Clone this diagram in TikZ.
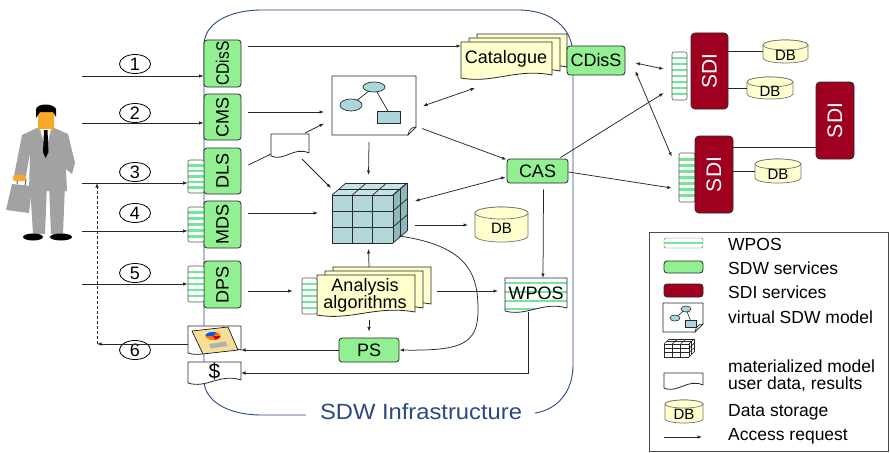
\documentclass[tikz,border=0pt]{standalone}
\usepackage{fontspec}
\setmainfont{Liberation Sans}
\usetikzlibrary{arrows.meta,calc,fit,shapes.geometric}

\definecolor{sdwgreen}{RGB}{146,240,146}
\definecolor{sdired}{RGB}{160,0,32}
\definecolor{paper}{RGB}{255,255,206}
\definecolor{stripegreen}{RGB}{112,232,152}
\definecolor{infrablue}{RGB}{44,72,132}
\definecolor{cubefront}{RGB}{178,214,218}
\definecolor{cubetop}{RGB}{198,228,230}
\definecolor{cubeside}{RGB}{140,184,190}
\definecolor{modelblue}{RGB}{170,214,220}
\definecolor{suitgray}{RGB}{162,162,162}
\definecolor{skin}{RGB}{250,168,40}
\definecolor{linegray}{RGB}{40,40,40}
\definecolor{chartpaper}{RGB}{246,222,150}

\newcommand\lblfont{\fontsize{18}{18}\selectfont}

% document outline with a wavy lower edge; #5 is the lowest point of the wave
\newcommand\docshape[5]{%
  \path[#1] (#2,#3) -- (#4,#3) -- (#4,{#5-5})
    .. controls ({#2+0.6*(#4-#2)},{#5-12}) and ({#2+0.35*(#4-#2)},{#5+4}) .. (#2,{#5-2}) -- cycle;}

% page with a folded lower right corner
\newcommand\foldedpage[5]{%
  \path[#1] (#2,#3) -- (#4,#3) -- (#4,{#5-8}) -- ({#4-8},#5) -- (#2,#5) -- cycle;
  \draw[linegray, line width=0.6pt, fill=black!12] (#4,{#5-8}) .. controls ({#4-4},{#5-8}) and ({#4-7},{#5-6}) .. ({#4-8},#5) -- cycle;}

% database cylinder: name, x1, y1, x2, y2, half height of the lid
\newcommand\dbcyl[6]{%
  \path[dbbody] (#2,{#3+#6}) -- (#2,{#5-#6})
    arc[start angle=180, end angle=0, x radius={(#4-#2)/2}, y radius=#6]
    -- (#4,{#3+#6})
    arc[start angle=0, end angle=-180, x radius={(#4-#2)/2}, y radius=#6] -- cycle;
  \draw[dbbody] ({(#2+#4)/2},{#3+#6}) ellipse[x radius={(#4-#2)/2}, y radius=#6];
  \node[area, fit={(#2,#3) (#4,#5)}] (#1) {};
  \node[dbtext] at ({(#2+#4)/2},{(#3+#5)/2+#6/2+1}) {DB};}

% cube of 3x3 cells: front face corners and depth offset
\newcommand\gridcube[6]{%
  \path[ctop] (#1,#2) -- ({#1+#5},{#2+#6}) -- ({#3+#5},{#2+#6}) -- (#3,#2) -- cycle;
  \path[cside] (#3,#2) -- ({#3+#5},{#2+#6}) -- ({#3+#5},{#4+#6}) -- (#3,#4) -- cycle;
  \path[cfront] (#1,#2) rectangle (#3,#4);
  \foreach \i in {0,1,2,3}{
    \draw[cubeline] ({#1+\i*(#3-#1)/3},#2) -- ({#1+\i*(#3-#1)/3},#4);
    \draw[cubeline] (#1,{#2+\i*(#4-#2)/3}) -- (#3,{#2+\i*(#4-#2)/3});
    \draw[cubeline] ({#1+\i*(#3-#1)/3},#2) -- ({#1+\i*(#3-#1)/3+#5},{#2+#6});
    \draw[cubeline] (#3,{#2+\i*(#4-#2)/3}) -- ({#3+#5},{#2+\i*(#4-#2)/3+#6});}
  \foreach \f in {0.5,1}{
    \draw[cubeline] ({#1+\f*#5},{#2+\f*#6}) -- ({#3+\f*#5},{#2+\f*#6});
    \draw[cubeline] ({#3+\f*#5},{#2+\f*#6}) -- ({#3+\f*#5},{#4+\f*#6});}}

\tikzset{
  area/.style={inner sep=0pt, outer sep=0pt},
  svc/.style={draw=linegray, fill=sdwgreen, rounded corners=3pt, line width=0.8pt,
    inner sep=0pt, font=\lblfont},
  sdibox/.style={draw=linegray, fill=sdired, rounded corners=4pt, line width=0.8pt,
    inner sep=0pt, text=white, font=\fontsize{21}{21}\selectfont},
  wbox/.style={draw=black!65, fill=white, rounded corners=2pt, inner sep=0pt, line width=0.6pt,
    path picture={\foreach \k in {1,...,#1}{
      \draw[stripegreen, line width=2.8pt]
        ($(path picture bounding box.north west)!{\k/(#1+1)}!(path picture bounding box.south west)$) --
        ($(path picture bounding box.north east)!{\k/(#1+1)}!(path picture bounding box.south east)$);}}},
  docst/.style={draw=linegray, fill=paper, line width=0.8pt},
  plaindoc/.style={draw=linegray, fill=white, line width=0.8pt},
  dbbody/.style={draw=black!55, fill=paper, line width=0.7pt},
  dbtext/.style={font=\fontsize{15}{15}\selectfont, inner sep=0pt},
  ctop/.style={fill=cubetop}, cside/.style={fill=cubeside}, cfront/.style={fill=cubefront},
  cubeline/.style={draw=linegray, line width=0.7pt},
  numc/.style={draw=black, ellipse, line width=0.8pt, minimum width=31pt, minimum height=19pt,
    inner sep=0pt, font=\lblfont},
  tipA/.tip={Latex[length=4.5pt,width=3.4pt]},
  acc/.style={draw=linegray, line width=0.75pt, -tipA},
  accb/.style={draw=linegray, line width=0.75pt, tipA-tipA},
  link/.style={draw=linegray, line width=0.75pt},
  infra/.style={draw=infrablue, line width=0.9pt},
  legtext/.style={anchor=west, inner sep=0pt, font=\fontsize{17.5}{17.5}\selectfont},
}

\begin{document}
\begin{tikzpicture}[x=1pt, y=-1pt, font=\lblfont]
\useasboundingbox[fill=white] (0,0) rectangle (890,452);

% ---------------- SDW infrastructure boundary ----------------
\draw[infra] (306,415) -- (262,415) .. controls (226,415) and (204,400) .. (204,380)
  -- (204,45) .. controls (204,24) and (228,10) .. (262,10) -- (518,10)
  .. controls (552,10) and (573,28) .. (573,56) -- (573,365)
  .. controls (573,393) and (556,410) .. (535,413);
\node[text=infrablue, font=\fontsize{22}{22}\selectfont, inner sep=0pt] (infra) at (421,412) {\scalebox{1.08}[1]{SDW Infrastructure}};

% ---------------- user ----------------
\begin{scope}
  \fill[suitgray] (30,185) -- (47,185) -- (45,234) -- (33,234) -- cycle;
  \fill[suitgray] (49,185) -- (65,185) -- (63,234) -- (51,234) -- cycle;
  \fill[black] (33,237) ellipse[x radius=10, y radius=3.5];
  \fill[black] (61,237) ellipse[x radius=11, y radius=3.5];
  \fill[suitgray] (22,135) -- (39,127) -- (52,127) -- (68,134) -- (75,163) -- (72,174)
    -- (66,169) -- (67,191) -- (29,191) -- (30,152) -- (26,176) -- (14,176) -- cycle;
  \fill[skin, rounded corners=3pt] (38,110) rectangle (54,131);
  \fill[black] (36,118) -- (36,109) .. controls (38,103) and (53,103) .. (56,109)
    -- (56,117) -- (53,112) -- (40,112) -- cycle;
  \fill[white] (40,129) -- (51,129) -- (46,150) -- cycle;
  \fill[black] (44,130) -- (47.5,130) -- (48.5,152) -- (45.5,158) -- (43,152) -- cycle;
  \draw[black!60, line width=1pt] (17,184) -- (18,179) -- (26,180) -- (25,186);
  \fill[suitgray] (12,184) -- (32,186) -- (29,213) -- (6,210) -- cycle;
  \fill[skin, rounded corners=2pt] (13,175) rectangle (26,181);
\end{scope}

% ---------------- request numbers ----------------
\node[numc] (n1) at (135,64) {1};
\node[numc] (n2) at (135,113) {2};
\node[numc] (n3) at (135,172) {3};
\node[numc] (n4) at (135,213) {4};
\node[numc] (n5) at (135,273) {5};
\node[numc] (n6) at (135,350) {6};

% ---------------- SDW services ----------------
\node[svc, minimum width=37pt, minimum height=47pt] (cdiss) at (222.5,63.5) {\rotatebox{90}{\scalebox{0.86}[1]{CDisS}}};
\node[svc, minimum width=37pt, minimum height=46pt] (cms) at (222.5,117) {\rotatebox{90}{CMS}};
\node[svc, minimum width=37pt, minimum height=46pt] (dls) at (222.5,171) {\rotatebox{90}{DLS}};
\node[svc, minimum width=37pt, minimum height=47pt] (mds) at (222.5,224.5) {\rotatebox{90}{MDS}};
\node[svc, minimum width=37pt, minimum height=47pt] (dps) at (222.5,284.5) {\rotatebox{90}{DPS}};
\node[wbox=5, minimum width=16pt, minimum height=33pt] (wdls) at (196,176.5) {};
\node[wbox=5, minimum width=16pt, minimum height=35pt] (wmds) at (196,224.5) {};
\node[wbox=5, minimum width=16pt, minimum height=36pt] (wdps) at (196,284) {};

% ---------------- results handed back ----------------
\docshape{plaindoc}{188}{326}{241}{355}
\node[area, fit={(188,326) (241,355)}] (res) {};
\filldraw[fill=chartpaper, draw=black, line width=0.6pt] (192,331) -- (228,327) -- (238,350) -- (203,354) -- cycle;
\fill[orange!90!red] (213,336) ellipse[x radius=7.5, y radius=4];
\fill[blue!65!cyan] (213,336) -- (205.5,336) arc[start angle=180, end angle=300, x radius=7.5, y radius=4] -- cycle;
\fill[red!80!black] (213,336) -- (220.5,336) arc[start angle=0, end angle=70, x radius=7.5, y radius=4] -- cycle;
\fill[gray!60] (209,344) -- (226,341.5) -- (227.5,346) -- (210.5,348.5) -- cycle;
\docshape{plaindoc}{188}{362}{241}{385}
\node[area, fit={(188,362) (241,385)}] (dol) {};
\node[font=\fontsize{21}{21}\selectfont] at (214.5,371.5) {\$};

% ---------------- virtual SDW model ----------------
\foldedpage{plaindoc}{332}{76}{416}{135}
\node[area, fit={(332,76) (416,135)}] (vm) {};
\draw[linegray, line width=0.7pt] (374,87) -- (351,105) (374,87) -- (388,111);
\filldraw[fill=modelblue, draw=linegray, line width=0.7pt] (374,87) ellipse[x radius=11, y radius=5];
\filldraw[fill=modelblue, draw=linegray, line width=0.7pt] (351,105) ellipse[x radius=11, y radius=6];
\filldraw[fill=modelblue, draw=linegray, line width=0.7pt] (377,111) rectangle (400,123);

% user data
\docshape{plaindoc}{271}{134}{309}{158}
\node[area, fit={(271,134) (309,158)}] (ud) {};

% ---------------- catalogue ----------------
\docshape{docst}{477}{34}{567}{72}
\docshape{docst}{469}{38}{560}{76}
\docshape{docst}{461}{42}{552}{80}
\node[area, fit={(461,42) (552,80)}] (cat) {};
\node at (506,59) {Catalogue};
\node[svc, minimum width=58pt, minimum height=29pt] (cdiss2) at (596,60.5) {CDisS};

% ---------------- materialized model ----------------
\gridcube{332}{195}{393}{243}{14}{-12}
\node[area, fit={(332,183) (407,243)}] (cube) {};

\dbcyl{db}{475}{207}{528}{242}{6}

% ---------------- analysis ----------------
\docshape{docst}{333}{267}{431}{309}
\docshape{docst}{325}{271}{423}{313}
\docshape{docst}{317}{275}{415}{317}
\node[area, fit={(317,275) (415,317)}] (an) {};
\node[align=center, font=\fontsize{18}{17}\selectfont] at (365,295) {Analysis\\algorithms};
\node[wbox=5, minimum width=15pt, minimum height=36pt] (wan) at (309.5,296) {};

\node[svc, minimum width=61pt, minimum height=24pt] (cas) at (537.5,171) {CAS};
\node[svc, minimum width=60pt, minimum height=24pt] (ps) at (369,350) {PS};

% WPOS output
\begin{scope}
  \docshape{clip}{505}{278}{567}{313}
  \fill[white] (505,278) rectangle (567,316);
  \foreach \yy in {283,292,301,309} \draw[stripegreen, line width=2.5pt] (505,\yy) -- (567,\yy);
\end{scope}
\docshape{draw=linegray, line width=0.8pt}{505}{278}{567}{313}
\node[area, fit={(505,278) (567,313)}] (wp) {};
\node at (536,293) {WPOS};

% ---------------- SDI services ----------------
\node[wbox=7, minimum width=15pt, minimum height=48pt] (wsdi1) at (679.5,76) {};
\node[sdibox, minimum width=37pt, minimum height=76pt] (sdi1) at (709.5,71) {\rotatebox{90}{SDI}};
\node[wbox=7, minimum width=16pt, minimum height=49pt] (wsdi2) at (687,177.5) {};
\node[sdibox, minimum width=38pt, minimum height=77pt] (sdi2) at (714,174.5) {\rotatebox{90}{SDI}};
\node[sdibox, minimum width=38pt, minimum height=77pt] (sdi3) at (835,120.5) {\rotatebox{90}{SDI}};
\dbcyl{db1}{763}{40}{808}{63}{5}
\dbcyl{db2}{747}{77}{793}{99}{5}
\dbcyl{db3}{755}{159}{801}{183}{5}

% ---------------- connectors ----------------
\coordinate (u1) at (82,76);
\coordinate (u2) at (82,123);
\coordinate (u3) at (82,183);
\coordinate (u4) at (82,231);
\coordinate (u5) at (82,284);
\coordinate (u6) at (97,344);
\draw[acc] (u1) -- (u1 -| cdiss.west);
\draw[acc] (u2) -- (u2 -| cms.west);
\draw[acc] (u3) -- (u3 -| wdls.west);
\draw[acc] (u4) -- (u4 -| wmds.west);
\draw[acc] (u5) -- (u5 -| wdps.west);
\draw[acc] (u6 -| res.west) -- (u6);
\draw[acc, dash pattern=on 3pt off 2pt] (u6) -- (u6 |- u3);

\draw[acc] ($(cdiss.east|-0,46)+(7,0)$) -- (cat.west|-0,46);
\draw[acc] ($(cms.east|-0,112)+(7,0)$) -- ($(vm.west|-0,112)+(-8,0)$);
\draw[link] ($(dls.east)+(7,-6)$) -- ($(ud.south west)+(0,-4)$);
\draw[acc] ($(ud.north east)+(-4,-1)$) -- ($(vm.west)+(-8,18)$);
\draw[acc] ($(ud.south east)+(-7,1)$) -- ($(cube.north west)+(-1,5)$);
\draw[acc] ($(mds.east|-0,213)+(7,0)$) -- ($(cube.west|-0,213)+(-14,0)$);
\draw[acc] ($(vm.south)+(-5,7)$) -- ($(cube.north)+(-1,-8)$);
\draw[accb] ($(cat.south west)+(14,8)$) -- ($(vm.east)+(7,0.5)$);
\draw[acc] ($(vm.east)+(6,23)$) -- ($(cas.north west)+(0,1)$);
\draw[accb] ($(cas.west)+(-1,6)$) -- ($(cube.east)+(8,-12)$);
\draw[acc] ($(cube.east)+(8,12)$) -- ($(db.west)+(-7,0.5)$);
\draw[acc] ($(cas.south)+(6,6)$) -- ($(wp.north)+(7,0)$);
\draw[acc] ($(an.north)+(3,-8)$) -- ($(cube.south)+(-1,6)$);
\draw[acc] ($(an.south)+(3,3)$) -- ($(ps.north)+(0,-6)$);
\draw[acc] ($(an.east)+(22,-5)$) -- ($(wp.west)+(-7,-4.5)$);
\draw[acc] ($(dps.east)+(7,6.5)$) -- ($(wan.west)+(-9,-5)$);
\draw[acc] ($(cube.south east)+(-8,-7)$) .. controls (470,246) and (478,276) .. (478,310)
  .. controls (478,344) and (462,351) .. (ps.east);
\draw[acc] (ps.west) -- (ps.west -| res.east);
\draw[acc] ($(wp.south)+(-8,-1)$) |- ($(dol.east)+(0,-0.5)$);

\draw[accb] ($(cdiss2.east)+(10,2.5)$) -- ($(wsdi1.west)+(-8,-7)$);
\draw[accb] ($(cdiss2.east)+(10,10.5)$) -- ($(wsdi2.north west)+(-7,4)$);
\draw[acc] ($(cas.north east)+(-8,-1)$) -- ($(wsdi1.west)+(-8,17)$);
\draw[acc] ($(cas.east)+(0,1)$) -- ($(wsdi2.west)+(-7,10.5)$);
\draw[link] (db1.west -| sdi1.east) -- (db1.west);
\draw[link] (db2.west -| sdi1.east) -- (db2.west);
\draw[link] (sdi2.east |- 0,147) -- (sdi3.west |- 0,147);
\draw[link] (db3.west -| sdi2.east) -- (db3.west);

% ---------------- legend ----------------
\node[area, draw=black!70, line width=0.8pt, fit={(649,232) (888,451)}] (legend) {};
\node[draw=black!65, fill=white, rounded corners=2pt, minimum width=39pt, minimum height=10pt, inner sep=0pt,
  path picture={\draw[stripegreen, line width=2.6pt] (path picture bounding box.west) -- (path picture bounding box.east);}]
  (lg1) at (683.5,243) {};
\node[svc, minimum width=39pt, minimum height=12pt] (lg2) at (683.5,267) {};
\node[sdibox, rounded corners=3pt, minimum width=39pt, minimum height=13pt] (lg3) at (683.5,290.5) {};
\foldedpage{plaindoc}{663}{303}{703}{332}
\draw[linegray, line width=0.6pt] (686,309) -- (675,318) (686,309) -- (691,322);
\filldraw[fill=modelblue, draw=linegray, line width=0.6pt] (686,309) ellipse[x radius=5, y radius=3];
\filldraw[fill=modelblue, draw=linegray, line width=0.6pt] (675,318) ellipse[x radius=5, y radius=3];
\filldraw[fill=modelblue, draw=linegray, line width=0.6pt] (685,320) rectangle (696,327);
\begin{scope}[ctop/.style={fill=white}, cside/.style={fill=white}, cfront/.style={fill=white},
  cubeline/.style={draw=linegray, line width=0.6pt}]
  \gridcube{664}{344}{689}{357}{5}{-5}
\end{scope}
\docshape{plaindoc}{664}{373}{703}{390}
\dbcyl{lgdb}{665}{400}{703}{423}{4}
\coordinate (lga) at (664,437);
\coordinate (lgb) at (702,437);
\draw[acc] (lga) -- (lgb);
\node[legtext] at (728,244) {WPOS};
\node[legtext] at (728,268) {SDW services};
\node[legtext] at (728,292) {SDI services};
\node[legtext] at (728,317) {virtual SDW model};
\node[legtext] at (728,366) {materialized model};
\node[legtext] at (728,384) {user data, results};
\node[legtext] at (728,412) {Data storage};
\node[legtext] at (728,436) {Access request};
\end{tikzpicture}
\end{document}
